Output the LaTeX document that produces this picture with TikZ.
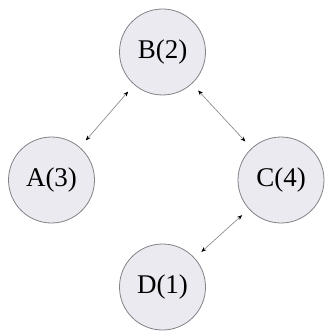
\documentclass[tikz,border=0pt]{standalone}
\usepackage{fontspec}
\setmainfont{Liberation Serif}
\usetikzlibrary{arrows.meta}
\definecolor{nodefill}{RGB}{234,234,240}
\definecolor{nodeline}{RGB}{130,130,135}
\begin{document}
\begin{tikzpicture}[x=1pt, y=-1pt]
  \useasboundingbox (0,0) rectangle (328,334);
  \begin{scope}[every node/.style={circle, draw=nodeline, fill=nodefill,
      line width=0.8pt, minimum size=86pt, inner sep=0pt,
      font=\fontsize{27}{30}\selectfont}]
    \node (b) at (162.5,52) {B(2)} ;
    \node (a) at (51.5,180) {A(3)} ;
    \node (c) at (281,180) {C(4)} ;
    \node (d) at (162.5,287) {D(1)} ;
  \end{scope}

  \begin{scope}[{Stealth[length=5pt,width=4pt,color=black]}-{Stealth[length=5pt,width=4pt,color=black]},
      draw=gray, line width=0.6pt, shorten <=9pt, shorten >=9pt]
    \draw (a) to (b);
    \draw (b) to (c);
    \draw (c) to (d);
  \end{scope}
\end{tikzpicture}
\end{document}
